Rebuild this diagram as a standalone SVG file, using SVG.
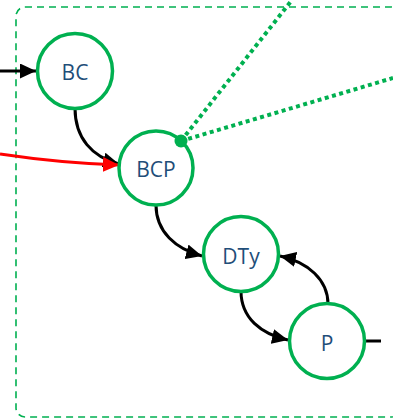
<svg xmlns="http://www.w3.org/2000/svg" width="393" height="418" viewBox="0 0 393 418">
<defs>
<style>
.node{fill:#fff;stroke:#00B050;stroke-width:3.5}
.lbl{font-family:"Open Sans","Liberation Sans",sans-serif;font-size:21px;fill:#1F4E79;text-anchor:middle;dominant-baseline:central}
.edge{fill:none;stroke:#000;stroke-width:3}
.red{fill:none;stroke:#FF0000;stroke-width:3}
.dot{fill:none;stroke:#00B050;stroke-width:4;stroke-dasharray:4 3.5}
</style>
<marker id="ab" markerUnits="userSpaceOnUse" markerWidth="17" markerHeight="15" refX="16" refY="7.5" orient="auto"><path d="M0,0 L16,7.5 L0,15 z" fill="#000"/></marker>
<marker id="ar" markerUnits="userSpaceOnUse" markerWidth="17" markerHeight="15" refX="16" refY="7.5" orient="auto"><path d="M0,0 L16,7.5 L0,15 z" fill="#FF0000"/></marker>
</defs>
<rect x="16" y="7" width="384" height="410" rx="9" fill="none" stroke="#00B050" stroke-width="1.6" stroke-dasharray="7 5"/>
<g id="connectors">
<path class="edge" d="M0,71 L36,71" marker-end="url(#ab)"/>
<path class="edge" d="M75,108 C75,138 92,157 119,164" marker-end="url(#ab)"/>
<path class="red" d="M0,154 Q60,163 119,165" marker-end="url(#ar)"/>
<path class="edge" d="M156,205 C156,232 176,249 202,256" marker-end="url(#ab)"/>
<path class="edge" d="M241,291 C241,318 261,334 288,340" marker-end="url(#ab)"/>
<path class="edge" d="M328,304 C328,280 308,262 280,256" marker-end="url(#ab)"/>
<path class="edge" d="M366,341 L381,341"/>
<path class="dot" d="M181,141 L292,0"/>
<path class="dot" d="M181,141 L393,78"/>
</g>
<g id="BC"><circle class="node" cx="75" cy="71" r="37.5"/><text class="lbl" x="75" y="72">BC</text></g>
<g id="BCP"><circle class="node" cx="156" cy="168" r="37"/><text class="lbl" x="156" y="169">BCP</text></g>
<g id="DTy"><circle class="node" cx="241" cy="254" r="37.5"/><text class="lbl" x="241" y="256">DTy</text></g>
<g id="P"><circle class="node" cx="327" cy="341" r="37.5"/><text class="lbl" x="327" y="343">P</text></g>
<circle cx="181" cy="141" r="6.5" fill="#00B050"/>
</svg>
